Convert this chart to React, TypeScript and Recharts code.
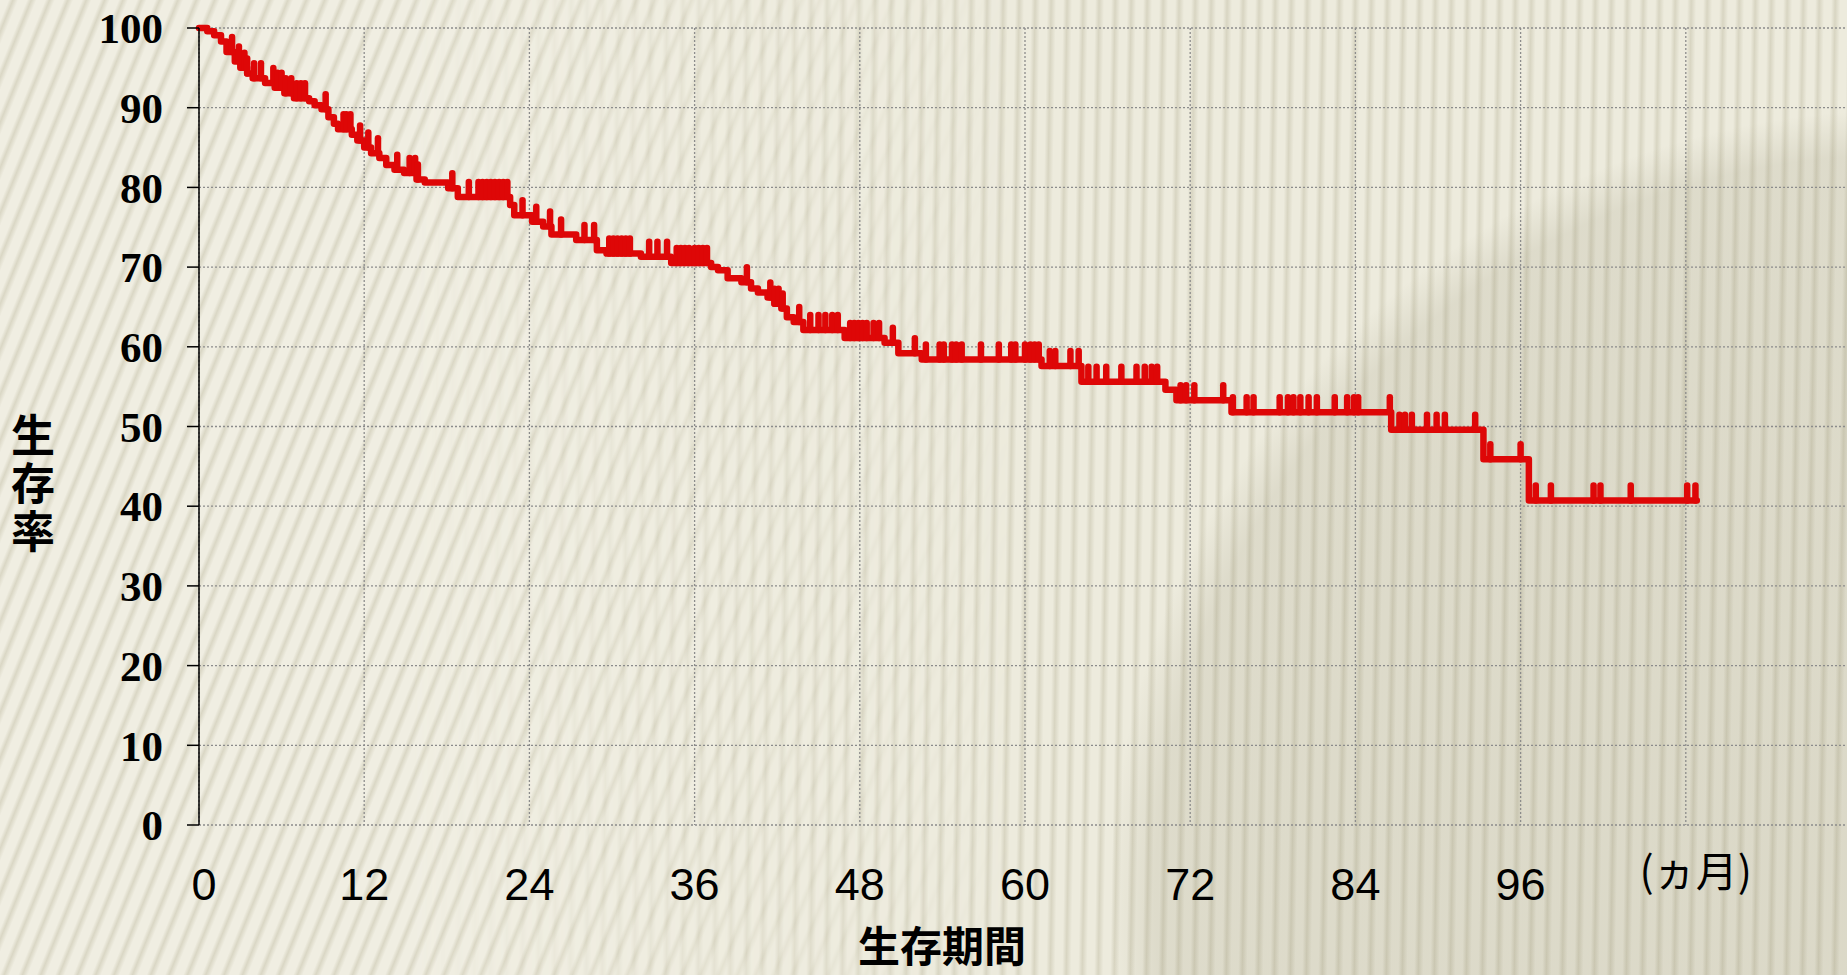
import { ComposedChart, Line, Scatter, XAxis, YAxis, CartesianGrid } from "recharts";

// Kaplan-Meier steps: month of each drop and survival (%) after it
const stepMonths = [
  0, 0.6, 1.1, 1.6, 2.0, 2.6, 3.0, 3.5, 3.9, 4.8, 5.5, 6.2, 6.9, 8.0, 8.4, 8.9, 9.4, 9.8, 10.1, 11.1,
  11.5, 12.0, 12.5, 13.1, 13.6, 14.2, 14.9, 15.8, 16.4, 18.1, 18.8, 22.6, 22.9, 24.2, 25.0, 25.6, 27.4,
  28.9, 29.6, 32.1, 34.3, 37.2, 37.7, 38.4, 39.4, 40.1, 40.6, 41.3, 41.8, 42.3, 42.7, 43.2, 43.9, 46.9,
  49.8, 50.8, 52.5, 61.2, 64.1, 70.2, 71.0, 75.0, 86.6, 93.3, 96.6, 108.8,
];
const stepSurvival = [
  100, 99.6, 99.1, 98.3, 97.0, 95.8, 95.0, 94.3, 93.7, 93.1, 92.5, 91.8, 91.2, 90.8, 90.3, 89.8, 88.8,
  88.0, 87.3, 86.6, 85.9, 85.0, 84.3, 83.7, 82.8, 82.2, 81.8, 81.0, 80.6, 79.9, 78.8, 77.8, 76.5, 75.7,
  75.1, 74.1, 73.4, 72.1, 71.7, 71.3, 70.5, 70.0, 69.6, 68.6, 68.1, 67.3, 66.8, 66.2, 65.4, 64.8, 63.7,
  63.1, 62.1, 61.1, 60.5, 59.2, 58.4, 57.6, 55.6, 54.6, 53.3, 51.8, 49.6, 45.9, 40.7, 40.7,
];
// censored cases (months)
const censorMonths = [
  2.4, 2.9, 3.3, 3.5, 4.0, 4.5, 5.4, 5.7, 6.0, 6.3, 6.7, 7.1, 7.4, 7.7, 9.2, 10.5, 10.7, 11.0, 11.7,
  12.3, 13.0, 14.4, 15.3, 15.7, 15.9, 18.4, 19.6, 20.3, 20.6, 20.9, 21.2, 21.5, 21.8, 22.1, 22.4, 23.5,
  24.5, 25.5, 26.3, 28.0, 28.7, 29.8, 30.1, 30.4, 30.7, 31.0, 31.3, 32.7, 33.3, 34.0, 34.7, 35.0, 35.3,
  35.6, 36.0, 36.3, 36.6, 36.9, 39.8, 41.5, 41.8, 42.1, 42.4, 43.6, 44.4, 45.0, 45.5, 46.0, 46.4, 47.3,
  47.6, 47.9, 48.2, 48.5, 49.0, 49.4, 50.4, 52.0, 52.8, 53.8, 54.1, 54.7, 55.0, 55.4, 56.8, 58.1, 59.0,
  59.3, 60.0, 60.4, 60.7, 61.0, 61.8, 62.2, 63.3, 63.9, 64.6, 65.2, 65.9, 67.0, 68.1, 68.7, 69.2, 69.6,
  71.3, 71.7, 72.3, 74.4, 75.1, 76.1, 76.6, 78.5, 79.1, 79.5, 80.0, 80.6, 81.2, 82.5, 83.4, 83.9, 84.2,
  86.5, 87.2, 87.6, 88.1, 89.2, 89.9, 90.5, 92.7, 93.8, 96.0, 97.1, 98.2, 101.3, 101.8, 104.0, 108.1, 108.7,
];
const monthTicks = [0, 12, 24, 36, 48, 60, 72, 84, 96, 108];
const rateTicks = [0, 10, 20, 30, 40, 50, 60, 70, 80, 90, 100];
const unitLabel = "(ヵ月)";
const xTitle = "生存期間";
const yTitle = "生存率";

const RED = "#DE0707";
const CJK = "'Noto Sans CJK JP', 'Noto Sans CJK SC', sans-serif";

const curve = stepMonths.map((t, i) => ({ t, s: stepSurvival[i] }));

function survivalAt(t: number) {
  let s = stepSurvival[0];
  for (let i = 0; i < stepMonths.length; i++) {
    if (stepMonths[i] <= t) s = stepSurvival[i];
  }
  return s;
}

const censored = censorMonths.map((t) => ({ t, s: survivalAt(t) }));

function CensorMark(props: any) {
  const { cx, cy } = props;
  if (cx == null || cy == null) return null;
  return (
    <line x1={cx} y1={cy} x2={cx} y2={cy - 15} stroke={RED} strokeWidth={6.5} strokeLinecap="round" />
  );
}

function MonthTick(props: any) {
  const { x, y, payload } = props;
  if (payload.value === 108) {
    return (
      <text x={x + 10} y={y + 62} textAnchor="middle" fontFamily={CJK} fontSize={42} fill="#000">
        {unitLabel}
      </text>
    );
  }
  return (
    <text
      x={payload.value === 0 ? x + 5 : x}
      y={y + 75}
      textAnchor="middle"
      fontFamily="'Liberation Sans', Arial, sans-serif"
      fontSize={45}
      fill="#000"
    >
      {payload.value}
    </text>
  );
}

const baseStripes =
  "radial-gradient(circle at 1900px 900px, rgba(110,104,70,0.14) 0px, rgba(110,104,70,0.12) 745px, rgba(110,104,70,0) 790px), " +
  "repeating-linear-gradient(91deg, #EDEBDD 0px, #EDEBDD 7px, #D8D5C2 11px, #EDEBDD 16px)";
const slantStripes = "repeating-linear-gradient(112deg, #F0EEE2 0px, #F0EEE2 8px, #DAD7C5 12px, #F0EEE2 17px)";
const fadeMask = "linear-gradient(to right, #000 0%, #000 22%, transparent 55%)";

export default function App() {
  return (
    <div
      style={{
        position: "absolute",
        left: 0,
        top: 0,
        width: 1847,
        height: 975,
        overflow: "hidden",
        background: baseStripes,
      }}
    >
      <div
        style={{
          position: "absolute",
          inset: 0,
          background: slantStripes,
          WebkitMaskImage: fadeMask,
          maskImage: fadeMask,
        }}
      />
      <div style={{ position: "absolute", left: 0, top: 0 }}>
        <ComposedChart width={1851} height={975} margin={{ top: 28, right: 0, bottom: 0, left: 0 }}>
          <CartesianGrid stroke="#8c8c8c" strokeWidth={1.3} strokeDasharray="2 2" />
          <XAxis
            dataKey="t"
            type="number"
            domain={[0, 120]}
            ticks={monthTicks}
            interval={0}
            height={150}
            axisLine={false}
            tickLine={false}
            tickSize={0}
            tickMargin={0}
            tick={<MonthTick />}
            label={{
              content: () => (
                <text x={942} y={962} textAnchor="middle" fontFamily={CJK} fontWeight="bold" fontSize={42} fill="#000">
                  {xTitle}
                </text>
              ),
            }}
          />
          <YAxis
            dataKey="s"
            type="number"
            domain={[0, 100]}
            ticks={rateTicks}
            interval={0}
            width={199}
            axisLine={{ stroke: "#000", strokeWidth: 1.5 }}
            tickLine={{ stroke: "#000", strokeWidth: 1.5 }}
            tickSize={12}
            tickMargin={24}
            tick={{ fontFamily: "'Liberation Serif', 'Times New Roman', serif", fontWeight: "bold", fontSize: 43, fill: "#000" }}
            label={{
              content: () => (
                <text
                  x={33}
                  y={413}
                  writingMode="tb"
                  letterSpacing={4}
                  fontFamily={CJK}
                  fontWeight="bold"
                  fontSize={44}
                  fill="#000"
                >
                  {yTitle}
                </text>
              ),
            }}
          />
          <Line
            data={curve}
            dataKey="s"
            type="stepAfter"
            stroke={RED}
            strokeWidth={6.5}
            strokeLinejoin="round"
            strokeLinecap="round"
            dot={false}
            activeDot={false}
            isAnimationActive={false}
          />
          <Scatter data={censored} shape={CensorMark} isAnimationActive={false} />
        </ComposedChart>
      </div>
    </div>
  );
}
